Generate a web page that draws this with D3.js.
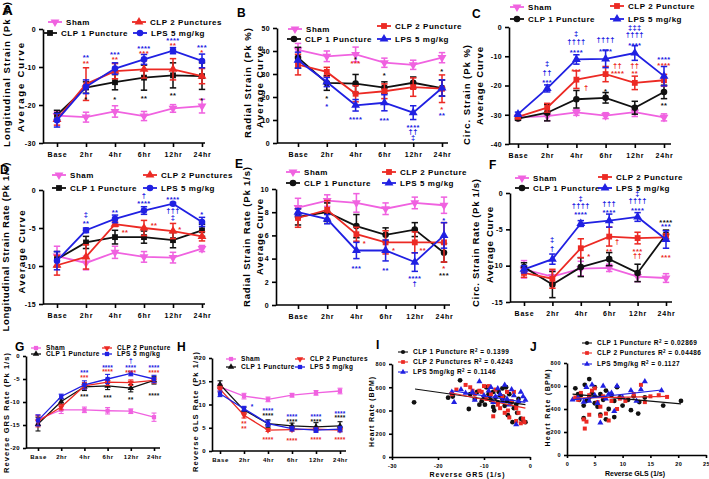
<!DOCTYPE html>
<html><head><meta charset="utf-8">
<script src="https://cdn.jsdelivr.net/npm/d3@7"></script>
<style>body{margin:0;background:#fff}svg{display:block;font-family:"Liberation Sans",Arial,sans-serif;font-weight:bold}</style>
</head><body><svg id="c" width="709" height="479"></svg>
<script>
const categories = ["Base","2hr","4hr","6hr","12hr","24hr"];
const seriesColors = ["#f062e0","#111111","#ec2a24","#2020e2"]; // Sham, CLP1, CLP2, LPS

// Panel A: Longitudinal strain (Sham, CLP1, CLP2, LPS)
const meanA = [[-22.8,-23.2,-21.7,-22.9,-20.9,-20.3],[-22.6,-15.4,-14.0,-12.8,-12.2,-12.4],[-23.8,-14.5,-11.1,-10.6,-10.6,-12.4],[-24.0,-15.2,-10.4,-8.0,-5.7,-8.4]];
const semA  = [[1.0,1.3,1.5,1.2,1.0,1.8],[1.2,1.5,2.0,3.3,3.3,3.5],[1.5,4.3,2.0,2.3,2.8,2.0],[1.8,1.8,1.5,1.3,0.8,1.8]];
const namesA = ["Sham","CLP 1 Puncture","CLP 2 Punctures","LPS 5 mg/kg"];
const starsA = [[1,-7.1,"**",3],[1,-8.6,"**",2],[1,-18.0,"*",1],[2,-6.4,"***",3],[2,-7.7,"**",2],[2,-18.1,"*",1],[3,-4.7,"****",3],[3,-6.0,"***",2],[3,-17.9,"**",1],[4,-2.7,"****",3],[4,-3.9,"**",2],[4,-17.2,"**",1],[5,-4.5,"***",3],[5,-5.7,"*",2],[5,-18.3,"*",1]];

// Panel B: Radial strain
const meanB = [[40.5,37.7,38.5,34.9,34.0,37.1],[37.1,26.1,25.8,24.1,26.2,23.9],[34.1,30.9,21.4,22.5,24.3,23.6],[36.0,26.5,16.4,17.5,13.2,23.9]];
const semB  = [[2.8,2.3,3.2,2.0,2.0,2.2],[4.5,3.2,4.0,2.5,2.5,3.5],[4.5,2.0,3.5,3.2,4.0,6.0],[3.5,2.0,2.5,3.5,3.0,3.5]];
const namesB = ["Sham","CLP 1 Puncture","CLP 2 Puncture","LPS 5 mg/kg"];
const starsB = [[1,20.0,"*",1],[1,16.7,"*",3],[2,37.0,"*",1],[2,35.2,"***",2],[2,11.0,"****",3],[3,30.1,"*",1],[3,10.6,"***",3],[4,7.6,"****",3],[4,5.1,"††",3],[4,2.4,"‡",3],[5,31.6,"*",1],[5,15.2,"*",2],[5,12.5,"**",3]];

// Panel C: Circumferential strain
const meanC = [[-30.9,-30.5,-29.2,-30.3,-29.1,-30.9],[-31.3,-29.3,-24.7,-24.2,-27.6,-22.2],[-30.7,-27.6,-18.0,-16.1,-19.1,-18.2],[-29.8,-21.0,-11.1,-10.9,-8.9,-16.8]];
const semC  = [[0.8,1.5,1.0,1.0,1.5,1.2],[0.6,2.8,3.0,1.8,2.2,2.3],[0.6,1.5,3.0,2.6,2.3,2.0],[0.7,1.2,1.6,3.0,2.5,3.3]];
const namesC = ["Sham","CLP 1 Puncture","CLP 2 Puncture","LPS 5 mg/kg"];
const starsC = [[1,-12.5,"‡",3],[1,-15.6,"††",3],[1,-18.5,"***",3],[2,-2.3,"‡",3],[2,-5.1,"††††",3],[2,-8.2,"****",3],[2,-14.8,"***",2],[2,-20.7,"†",2,10],[3,-4.5,"††††",3],[3,-7.7,"****",3],[3,-13.1,"††",2,12],[3,-15.3,"****",2,12],[3,-21.6,"*",1],[4,-0.3,"‡‡‡",3],[4,-2.8,"††††",3],[4,-5.7,"****",3],[4,-13.3,"††",2],[4,-15.3,"**",2],[5,-10.6,"****",3],[5,-12.7,"****",2],[5,-26.4,"**",1]];

// Panel D: Longitudinal strain rate
const meanD = [[-8.7,-9.6,-8.2,-8.8,-8.9,-7.7],[-9.1,-6.9,-6.2,-6.2,-6.6,-5.3],[-9.9,-8.8,-4.5,-5.0,-5.4,-6.1],[-9.3,-5.3,-3.8,-2.7,-1.8,-4.2]];
const semD  = [[1.3,0.9,0.8,0.7,0.7,0.4],[1.0,0.8,0.9,0.8,1.0,0.8],[1.3,1.6,0.3,1.0,1.0,0.6],[1.2,0.3,0.5,0.5,0.15,0.6]];
const namesD = ["Sham","CLP 1 Puncture","CLP 2 Punctures","LPS 5 mg/kg"];
const starsD = [[1,-3.3,"‡",3],[1,-4.2,"**",3],[2,-2.7,"**",3],[2,-5.4,"**",2,10],[3,-0.8,"†",3],[3,-1.5,"****",3],[3,-4.5,"**",2,10],[4,-1.1,"****",3],[4,-2.7,"†††",3],[4,-3.6,"‡",3],[4,-5.0,"*",2,7],[5,-3.0,"*",3]];

// Panel E: Radial strain rate
const meanE = [[8.4,9.0,8.8,8.3,8.8,8.6],[7.6,8.0,6.8,6.05,6.5,4.5],[7.5,8.2,6.1,5.4,5.4,5.4],[8.0,7.4,4.7,4.7,3.7,6.0]];
const semE  = [[0.8,0.5,0.8,0.5,0.5,0.7],[0.7,0.8,1.0,0.6,0.6,0.8],[0.8,0.8,0.6,1.0,0.9,1.7],[0.3,0.4,0.7,0.9,0.8,1.1]];
const namesE = ["Sham","CLP 1 Puncture","CLP 2 Puncture","LPS 5 mg/kg"];
const starsE = [[2,5.4,"*",2,8],[2,3.3,"***",3],[3,4.8,"*",2,8],[3,3.1,"**",3],[4,4.8,"**",2,8],[4,2.4,"****",3],[4,1.8,"†",3],[5,7.4,"*",3],[5,3.3,"*",2],[5,2.7,"***",1]];

// Panel F: Circumferential strain rate
const meanF = [[-10.5,-11.5,-10.4,-10.3,-11.5,-11.7],[-10.2,-12.6,-10.2,-9.1,-11.0,-5.7],[-11.0,-11.8,-7.6,-6.0,-6.2,-6.1],[-10.5,-9.1,-4.2,-3.8,-3.3,-6.4]];
const semF  = [[1.2,0.8,1.0,0.5,0.7,0.6],[0.6,1.8,1.3,0.9,1.2,0.6],[0.6,1.3,1.3,1.3,0.8,0.5],[0.5,0.7,0.4,0.9,0.6,1.2]];
const namesF = ["Sham","CLP 1 Puncture","CLP 2 Puncture","LPS 5 mg/kg"];
const starsF = [[1,-6.5,"‡",3],[1,-7.7,"†",3],[2,-0.8,"‡",3],[2,-1.8,"††††",3],[2,-2.8,"****",3],[2,-8.5,"*",2,8],[3,-1.5,"†††",3],[3,-2.5,"****",3],[3,-6.7,"†",2,8],[3,-7.8,"**",2],[4,-0.1,"‡",3],[4,-1.1,"††††",3],[4,-2.2,"****",3],[4,-7.8,"***",2],[4,-8.6,"††",2],[5,-3.8,"****",1],[5,-4.4,"***",3],[5,-8.6,"***",2]];

// Panel G: Reverse GRS rate
const meanG = [[-13.8,-11.7,-11.7,-11.9,-12.0,-13.3],[-14.8,-9.9,-6.7,-6.5,-7.0,-5.3],[-14.2,-11.1,-6.5,-5.7,-5.8,-5.3],[-14.0,-8.8,-6.3,-5.0,-3.8,-5.0]];
const semG  = [[1.0,0.8,0.6,0.7,0.5,0.9],[1.5,0.6,0.8,0.8,0.8,0.8],[1.2,0.6,0.7,0.7,0.6,0.6],[1.2,0.5,0.9,1.0,0.5,0.8]];
const namesG = ["Sham","CLP 1 Puncture","CLP 2 Puncture","LPS 5 mg/kg"];
const starsG = [[2,-3.4,"***",3],[2,-4.5,"***",2],[2,-8.6,"***",1],[3,-2.3,"****",3],[3,-3.2,"****",2],[3,-8.7,"***",1],[4,-1.1,"†",3],[4,-2.3,"****",3],[4,-3.4,"****",2],[4,-9.2,"**",1],[5,-2.3,"****",3],[5,-3.4,"****",2],[5,-8.4,"****",1]];

// Panel H: Reverse GLS rate
const meanH = [[13.8,11.8,11.1,12.0,12.5,12.9],[14.3,8.8,5.9,5.4,5.2,5.4],[13.3,7.7,4.5,4.6,4.7,4.5],[12.3,9.1,5.9,4.8,4.5,4.7]];
const semH  = [[0.6,0.6,0.5,0.4,0.5,0.6],[0.8,0.6,0.8,0.6,0.9,0.9],[0.6,0.6,0.3,0.3,0.3,0.3],[0.6,0.5,0.6,0.5,0.5,0.6]];
const namesH = ["Sham","CLP 1 Puncture","CLP 2 Punctures","LPS 5 mg/kg"];
const starsH = [[1,9.9,"*",3,8],[1,6.1,"**",2],[1,5.0,"**",2],[2,8.9,"****",3],[2,7.9,"****",1],[2,2.7,"****",2],[3,7.6,"****",3],[3,6.5,"****",1],[3,2.4,"****",2],[4,7.7,"****",3],[4,6.6,"****",1],[4,2.6,"****",2],[5,8.4,"****",3],[5,7.4,"****",1],[5,2.6,"****",2]];

// Panel I: Heart rate vs Reverse GRS
const iClp1 = [[-25.2,470],[-17.8,510],[-16.8,520],[-15.2,660],[-13.3,413],[-13,540],[-12,500],[-11.5,560],[-11,450],[-10.5,480],[-10,520],[-9.8,450],[-9.5,600],[-9,540],[-8.8,520],[-8.5,490],[-8,560],[-8,430],[-7.8,400],[-7.5,510],[-7,470],[-6.8,560],[-6.5,530],[-6,500],[-6,590],[-5.8,520],[-5.5,440],[-5.2,600],[-5,480],[-4.8,360],[-4.5,540],[-4,470],[-3.8,300],[-3.5,420],[-3,450],[-2.8,380],[-2.5,500],[-2,330],[-1.5,310],[-1,300]];
const iClp2 = [[-17,540],[-16,580],[-14,620],[-13,600],[-12.5,570],[-12,540],[-11,570],[-10.5,560],[-10,610],[-9.5,500],[-9,610],[-8.5,540],[-8,350],[-7.5,580],[-7,450],[-6.5,420],[-6,520],[-5.5,380],[-5,560],[-4.8,400],[-4.5,340],[-4,480],[-3.5,560],[-3,310],[-3,420],[-2.5,380],[-2,290],[-1.5,330],[-1.2,300]];
const iLps = [[-17,560],[-16.5,470],[-15,580],[-14,550],[-12.5,560],[-12,490],[-11,650],[-10,530],[-9,570],[-8.5,600],[-8,470],[-7.5,520],[-7,590],[-6.5,540],[-6,480],[-5.5,620],[-5,500],[-4.5,450],[-4,580],[-3.5,530],[-3,280],[-2.5,480],[-2,560],[-1.5,520],[-1,490]];
const iFits = [[-25,585,-1,450],[-17.5,555,-1,420],[-17,570,-1,470]];
const iNames = [["CLP 1 Puncture R","0.1399"],["CLP 2 Punctures R","0.4243"],["LPS 5mg/kg R","0.1146"]];

// Panel J: Heart rate vs Reverse GLS
const jClp1 = [[1.5,580],[2,530],[2.2,480],[2.5,520],[3,430],[3,320],[3.2,610],[3.5,470],[4,660],[4,500],[4.5,540],[5,450],[5,590],[5.5,420],[6,530],[6,350],[6.5,480],[7,310],[7,560],[7.5,400],[8,520],[8.5,330],[8.5,470],[9,590],[9.5,500],[10,430],[11,480],[11.5,390],[12,510],[12.8,360],[13,460],[14,500],[17.3,430],[20.5,470]];
const jClp2 = [[1.5,500],[2,480],[2.5,540],[3,310],[3.2,230],[3.5,290],[4,520],[4,350],[4.5,560],[5,580],[5.5,460],[6,340],[6,420],[6.5,510],[7,360],[7.5,300],[8,470],[9,400],[9.5,490],[10.5,470],[12,530],[13.3,610],[14,460],[15,510],[16.5,520],[18,505]];
const jLps = [[1,480],[2,500],[3,460],[3.5,590],[4,470],[4.5,610],[5,520],[5.5,450],[6,280],[6.5,600],[7,490],[7.5,530],[8,540],[8.5,380],[9,600],[10,500],[11.5,560],[12.5,470],[13.3,570],[14,640],[17,560]];
const jFits = [[1,530,20.5,445],[1,495,18.3,510],[1,480,17,565]];
const jNames = [["CLP 1 Puncture R","0.02869"],["CLP 2 Punctures R","0.04486"],["LPS 5mg/kg R","0.1127"]];

const svg = d3.select("#c");
const fmt = d => String(d);   // plain hyphen-minus like the reference
const shapeMap = {square:d3.symbolSquare, circle:d3.symbolCircle, up:d3.symbolTriangle, down:d3.symbolTriangle};
function sym(g, shape, x, y, size, color){
  g.append("path").attr("d", d3.symbol(shapeMap[shape], size)())
   .attr("transform", `translate(${x},${y})` + (shape==="down" ? " rotate(180)" : ""))
   .attr("fill", color);
}
function styleAxis(sel, fs){
  sel.selectAll("path,line").attr("stroke","#000").attr("stroke-width",1.6);
  sel.selectAll("text").attr("font-size",fs).attr("font-weight","bold").attr("fill","#000")
     .attr("font-family","Liberation Sans, Arial, sans-serif").attr("letter-spacing",0.4);
}
function vlabel(g, t, cx, cy, len, fs){
  g.append("text").attr("transform",`translate(${cx},${cy}) rotate(-90)`)
   .attr("text-anchor","middle").attr("dominant-baseline","central")
   .attr("font-size",fs).attr("textLength",len).attr("lengthAdjust","spacing").text(t);
}
function title(g, t, x, y, fs){ g.append("text").attr("x",x).attr("y",y).attr("font-size",fs).text(t); }

function linePanel(p){
  const g = svg.append("g");
  const x = d3.scalePoint().domain(categories).range(p.xPix);
  const y = d3.scaleLinear().domain(p.yDom).range(p.yPix);
  const sm = p.small;
  const ya = g.append("g").attr("transform",`translate(${p.axisX},0)`)
    .call(d3.axisLeft(y).tickValues(p.yTicks).tickFormat(fmt).tickSize(sm?3:4).tickSizeOuter(0).tickPadding(3));
  styleAxis(ya, sm?6:7);
  const xa = g.append("g").attr("transform",`translate(0,${p.yPix[0]})`)
    .call(d3.axisBottom(x).tickSize(sm?3:4).tickPadding(sm?4:5));
  xa.select(".domain").remove();
  styleAxis(xa, sm?6:7);
  xa.selectAll("text").attr("letter-spacing", sm?0.6:0.8);
  g.append("line").attr("x1",p.axisX).attr("x2",p.xEnd).attr("y1",p.yPix[0]).attr("y2",p.yPix[0])
   .attr("stroke","#000").attr("stroke-width",1.6);
  const lw = sm?1.3:1.8, cap = sm?2.5:3.2, msz = sm?18:34;
  const line = d3.line().x((d,i)=>x(categories[i])).y(d=>y(d));
  p.mean.forEach((vals,si)=>{
    const col = seriesColors[si];
    g.append("path").datum(vals).attr("d",line).attr("fill","none").attr("stroke",col).attr("stroke-width",lw);
    vals.forEach((v,i)=>{
      const e = p.sem[si][i], cx = x(categories[i]);
      g.append("line").attr("x1",cx).attr("x2",cx).attr("y1",y(v-e)).attr("y2",y(v+e)).attr("stroke",col).attr("stroke-width",lw*0.85);
      [v-e,v+e].forEach(b=>g.append("line").attr("x1",cx-cap).attr("x2",cx+cap).attr("y1",y(b)).attr("y2",y(b)).attr("stroke",col).attr("stroke-width",lw*0.85));
      sym(g, p.shapes[si], cx, y(v), msz, col);
    });
  });
  // significance marks: one text element per stacked column, one tspan per mark
  const sfs = sm?6.5:7.5;
  d3.group(p.stars, s => s[0] + "_" + (s[4]||0)).forEach(arr=>{
    const t = g.append("text").attr("text-anchor","middle").attr("font-size",sfs).attr("letter-spacing",sm?0.2:0.4);
    arr.forEach(s=>{
      const onlyStar = /^\*+$/.test(s[2]);
      t.append("tspan").attr("x",x(categories[s[0]])+(s[4]||0)).attr("y",y(s[1])+(onlyStar?sfs*0.55:sfs*0.3))
       .attr("fill",seriesColors[s[3]]).text(s[2]);
    });
  });
  const L = sm?10:14, gap = sm?5:4, lfs = sm?6.5:8;
  p.names.forEach((nm,si)=>{
    const [lx,ly] = p.legend[si], col = seriesColors[si];
    g.append("line").attr("x1",lx).attr("x2",lx+L).attr("y1",ly).attr("y2",ly).attr("stroke",col).attr("stroke-width",lw);
    sym(g, p.shapes[si], lx+L/2, ly, msz, col);
    g.append("text").attr("x",lx+L+gap).attr("y",ly+lfs*0.36).attr("font-size",lfs).attr("letter-spacing",sm?0.4:0.55).text(nm);
  });
  title(g, p.title[0], p.title[1], p.title[2], p.title[3]);
  p.labels.forEach(l=>vlabel(g, l[0], l[1], l[2], l[3], l[4]));
}

function scatterPanel(p){
  const g = svg.append("g");
  const x = d3.scaleLinear().domain(p.xDom).range(p.xPix);
  const y = d3.scaleLinear().domain([0,800]).range(p.yPix);
  const ya = g.append("g").attr("transform",`translate(${p.xPix[0]},0)`)
    .call(d3.axisLeft(y).tickValues([0,200,400,600,800]).tickFormat(fmt).tickSize(3).tickSizeOuter(0).tickPadding(3));
  styleAxis(ya, 5.5);
  const xa = g.append("g").attr("transform",`translate(0,${p.yPix[0]})`)
    .call(d3.axisBottom(x).tickValues(p.xTicks).tickFormat(fmt).tickSize(3).tickSizeOuter(0).tickPadding(4));
  styleAxis(xa, 5.5);
  const shapes = ["circle","square","up"];
  p.groups.forEach((pts,gi)=>{
    const col = seriesColors[gi+1];
    pts.forEach(d=>sym(g, shapes[gi], x(d[0]), y(d[1]), gi===0?18:16, col));
  });
  p.fits.forEach((f,gi)=>{
    g.append("line").attr("x1",x(f[0])).attr("y1",y(f[1])).attr("x2",x(f[2])).attr("y2",y(f[3]))
     .attr("stroke",seriesColors[gi+1]).attr("stroke-width",1.2);
  });
  p.names.forEach((nm,gi)=>{
    const [lx,ly] = p.legend[gi], col = seriesColors[gi+1];
    g.append("line").attr("x1",lx).attr("x2",lx+10).attr("y1",ly).attr("y2",ly).attr("stroke",col).attr("stroke-width",1.1);
    sym(g, shapes[gi], lx+5, ly, 14, col);
    const t = g.append("text").attr("x",lx+15).attr("y",ly+2.3).attr("font-size",6.5).attr("letter-spacing",0.45);
    t.append("tspan").text(nm[0]);
    t.append("tspan").attr("dy",-2.5).attr("font-size",4.5).text("2");
    t.append("tspan").attr("dy",2.5).text(" = " + nm[1]);
  });
  title(g, p.title[0], p.title[1], p.title[2], p.title[3]);
  vlabel(g, p.ylab[0], p.ylab[1], p.ylab[2], p.ylab[3], 7);
  g.append("text").attr("x",p.xlab[1]).attr("y",p.xlab[2]).attr("text-anchor","middle").attr("font-size",7)
   .attr("textLength",p.xlab[3]).attr("lengthAdjust","spacing").text(p.xlab[0]);
}

const shapesAD = ["down","square","up","circle"];
const shapesB = ["down","circle","square","up"];
const shapesGH = ["square","up","down","square"];

linePanel({mean:meanA, sem:semA, stars:starsA, names:namesA, shapes:shapesAD, yDom:[-30,0], yTicks:[-30,-20,-10,0], yPix:[143,29], xPix:[57,202], axisX:43, xEnd:205,
  legend:[[48,22],[43,33],[132,22],[133,33]], title:["A",2,15,15],
  labels:[["Longitudinal Strain (Pk %)",6,74.5,145,9.5],["Average Curve",20,87.5,89,9.5]]});
linePanel({mean:meanB, sem:semB, stars:starsB, names:namesB, shapes:shapesB, yDom:[0,50], yTicks:[0,10,20,30,40,50], yPix:[143,28], xPix:[298,442], axisX:277, xEnd:448,
  legend:[[288,29],[287,39],[377,26],[377,39]], title:["B",237,17,12],
  labels:[["Radial Strain (Pk %)",247,83,110,9.5],["Average Curve",259,87,82,9.5]]});
linePanel({mean:meanC, sem:semC, stars:starsC, names:namesC, shapes:shapesB, yDom:[-40,0], yTicks:[-40,-30,-20,-10,0], yPix:[144,27], xPix:[518,664], axisX:509, xEnd:671,
  legend:[[510,7],[510,19],[610,6],[610,19]], title:["C",472,18,12],
  labels:[["Circ. Strain (Pk %)",466,95,100,9.5],["Average Curve",479,86,78,9.5]]});
linePanel({mean:meanD, sem:semD, stars:starsD, names:namesD, shapes:shapesAD, yDom:[-15,0], yTicks:[-15,-10,-5,0], yPix:[304,190], xPix:[57,202], axisX:43, xEnd:205,
  legend:[[52,175],[52,188],[143,175],[143,188]], title:["D",0,174,12],
  labels:[["Longitudinal Strain Rate (Pk 1/s)",5,247,169,9.5],["Average Curve",21,252,83,9.5]]});
linePanel({mean:meanE, sem:semE, stars:starsE, names:namesE, shapes:shapesB, yDom:[0,10], yTicks:[0,2,4,6,8,10], yPix:[305,189], xPix:[298,444], axisX:276, xEnd:450,
  legend:[[286,172],[286,183],[382,172],[382,183]], title:["E",235,168,12],
  labels:[["Radial Strain Rate (Pk 1/s)",246,237,140,9.5],["Average Curve",259,237,76,9.5]]});
linePanel({mean:meanF, sem:semF, stars:starsF, names:namesF, shapes:shapesB, yDom:[-15,0], yTicks:[-15,-10,-5,0], yPix:[302,193], xPix:[524,666], axisX:510, xEnd:672,
  legend:[[515,178],[515,188],[598,177],[598,188]], title:["F",489,169,12],
  labels:[["Circ. Strain Rate (Pk 1/s)",475.5,243,128,9.5],["Average Curve",489,245,76,9.5]]});
linePanel({mean:meanG, sem:semG, stars:starsG, names:namesG, shapes:shapesGH, yDom:[-20,0], yTicks:[-20,-15,-10,-5,0], yPix:[448,356], xPix:[38,154], axisX:26, xEnd:160, small:true,
  legend:[[31,348],[31,354],[102,348],[102,354]], title:["G",15,351,12],
  labels:[["Reverse GRS Rate (Pk 1/s)",6.5,413,120,7.5]]});
linePanel({mean:meanH, sem:semH, stars:starsH, names:namesH, shapes:shapesGH, yDom:[0,20], yTicks:[0,5,10,15,20], yPix:[451,358], xPix:[220,340], axisX:212, xEnd:346, small:true,
  legend:[[226,359],[226,367],[295,359],[295,367]], title:["H",177,351,12],
  labels:[["Reverse GLS Rate (Pk 1/s)",195,412,120,7.5]]});

scatterPanel({groups:[iClp1,iClp2,iLps], fits:iFits, names:iNames, xDom:[-30,0], xPix:[392,530], yPix:[457,364], xTicks:[-30,-20,-10,0],
  legend:[[398,352],[398,362],[398,372]], title:["I",376,349,12], ylab:["Heart Rate (BPM)",371,412,70], xlab:["Reverse GRS (1/s)",467,477,75]});
scatterPanel({groups:[jClp1,jClp2,jLps], fits:jFits, names:jNames, xDom:[0,25], xPix:[567,706], yPix:[455,363], xTicks:[0,5,10,15,20,25],
  legend:[[582,343],[582,353],[582,364]], title:["J",530,351,12], ylab:["Heart Rate (BPM)",547,408,77], xlab:["Reverse GLS (1/s)",635,476,60]});
</script></body></html>
